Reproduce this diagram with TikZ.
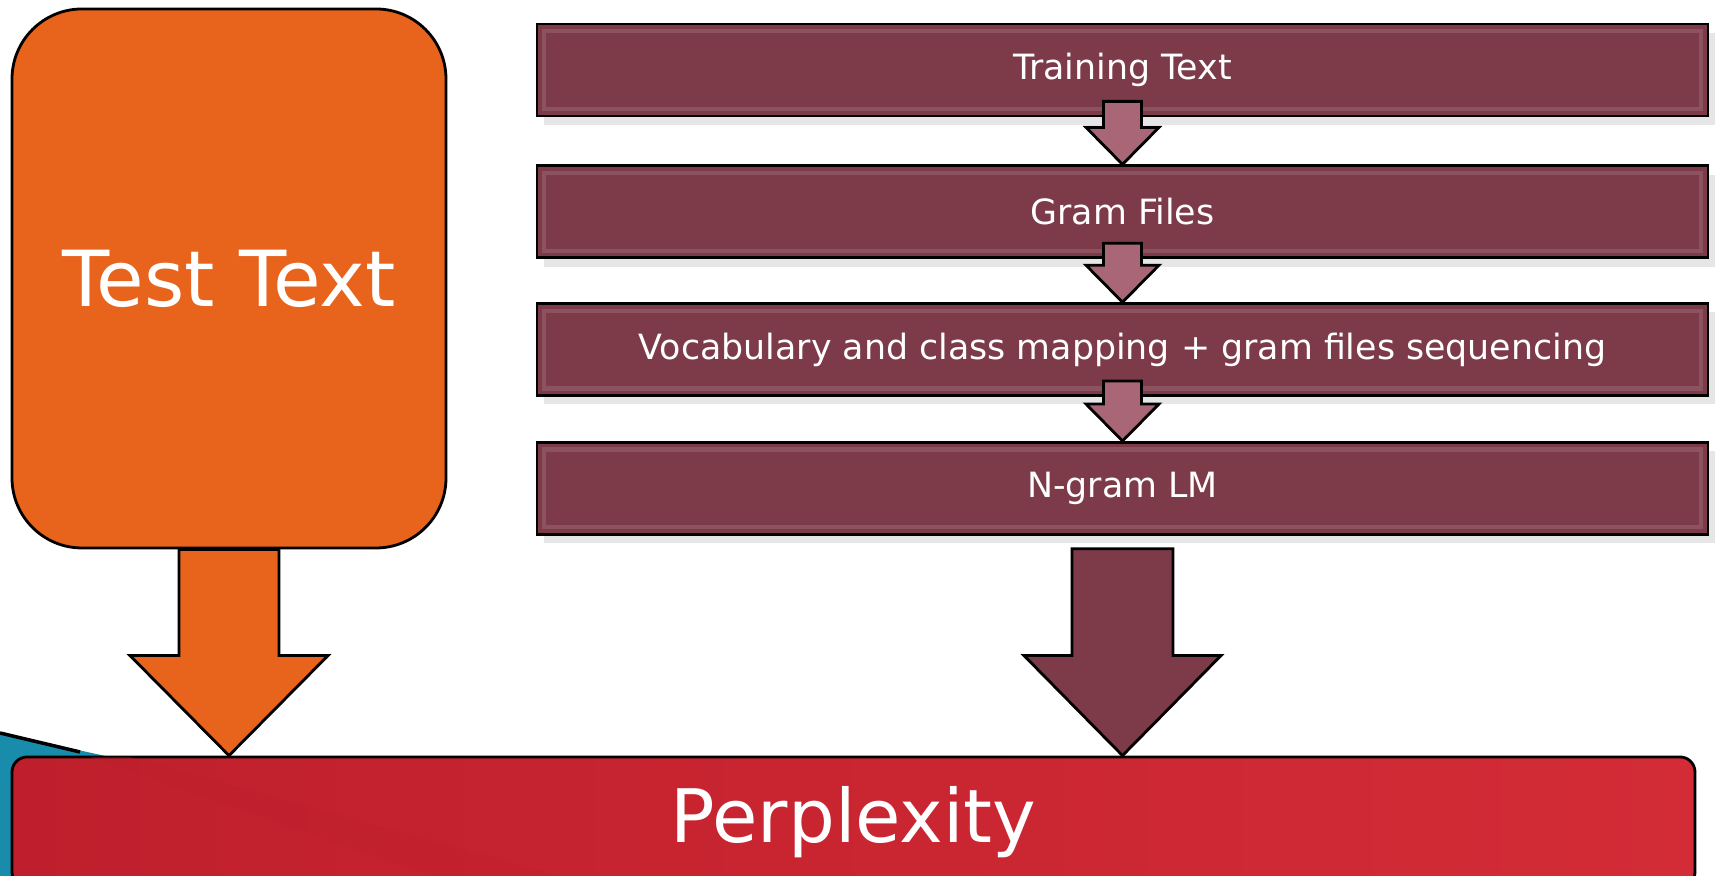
\documentclass[tikz,border=0pt]{standalone}
\usepackage{fontspec}
\setmainfont{DejaVu Sans}
\usetikzlibrary{positioning, calc, shadows}
\definecolor{testorange}{HTML}{E8641C}
\definecolor{lmwine}{HTML}{7D3B4A}
\definecolor{winepink}{HTML}{A86676}
\definecolor{perpred}{HTML}{D32C37}
\definecolor{perpdark}{HTML}{BF1F2C}
\definecolor{slideteal}{HTML}{1A8CAB}

\begin{document}
\begin{tikzpicture}[
    stepbox/.style={draw=black, line width=0.8pt, fill=lmwine, minimum width=11.71cm, minimum height=0.92cm,
        text=white, font=\fontsize{9.9}{12}\selectfont,
        drop shadow={opacity=0.2, shadow xshift=2pt, shadow yshift=-2.5pt},
        path picture={\draw[white, opacity=0.12, line width=1.2pt]
            ([shift={(2pt,-2pt)}]path picture bounding box.north west) rectangle
            ([shift={(-2pt,2pt)}]path picture bounding box.south east);}},
    testbox/.style={draw=black, line width=0.8pt, fill=testorange, rounded corners=0.7cm,
        minimum width=4.34cm, minimum height=5.39cm, text=white, font=\fontsize{22}{26}\selectfont},
    resultbar/.style={draw=black, line width=0.8pt, left color=perpdark, right color=perpred, rounded corners=0.15cm,
        minimum width=16.83cm, minimum height=1.3cm, text=white, font=\fontsize{21}{25}\selectfont},
    % block arrow drawn from start to target: half shaft, half head, head length
    blockarrow/.style n args={3}{draw=black, line width=0.8pt, line join=miter,
        to path={([xshift=-#1]\tikztostart) -- ([xshift=-#1, yshift=#3]\tikztotarget)
            -- ([xshift=-#2, yshift=#3]\tikztotarget) -- (\tikztotarget)
            -- ([xshift=#2, yshift=#3]\tikztotarget) -- ([xshift=#1, yshift=#3]\tikztotarget)
            -- ([xshift=#1]\tikztostart) -- cycle}},
    smallarrow/.style={blockarrow={0.19cm}{0.365cm}{0.37cm}, fill=winepink}
]
\clip (0,0) rectangle (17.17,8.76);

% slide decoration, bottom left
\fill[slideteal] (0,1.43) -- (1.1,1.19) -- (1.1,0) -- (0,0) -- cycle;
\draw[black, line width=1pt] (0,1.43) -- (0.8,1.24);

% boxes
\node[testbox] (test) at (2.29,5.975) {Test Text};
\node[stepbox] (train) at (11.225,8.06) {Training Text};
\node[stepbox, below=0.47cm of train] (gram) {Gram Files};
\node[stepbox, below=0.43cm of gram] (vocab) {Vocabulary and class mapping + gram files sequencing};
\node[stepbox, below=0.44cm of vocab] (lm) {N-gram LM};
\node[resultbar] (perp) at (8.535,0.54) {Perplexity};
\fill[perpdark, opacity=0.35] (0.9,1.19) -- (1.3,1.19) -- (5.6,0) -- (4.3,0) -- cycle;

% small arrows between the steps
\draw[smallarrow] ([yshift=0.16cm]train.south) to (gram.north);
\draw[smallarrow] ([yshift=0.16cm]gram.south) to (vocab.north);
\draw[smallarrow] ([yshift=0.16cm]vocab.south) to (lm.north);

% big arrows into the result
\coordinate (testtip) at (test.south |- perp.north);
\coordinate (lmtip) at (lm.south |- perp.north);
\draw[blockarrow={0.5cm}{0.99cm}{1.0cm}, fill=testorange] (test.south) to (testtip);
\draw[blockarrow={0.505cm}{0.985cm}{1.0cm}, fill=lmwine] ([yshift=-0.13cm]lm.south) to (lmtip);
\end{tikzpicture}
\end{document}
